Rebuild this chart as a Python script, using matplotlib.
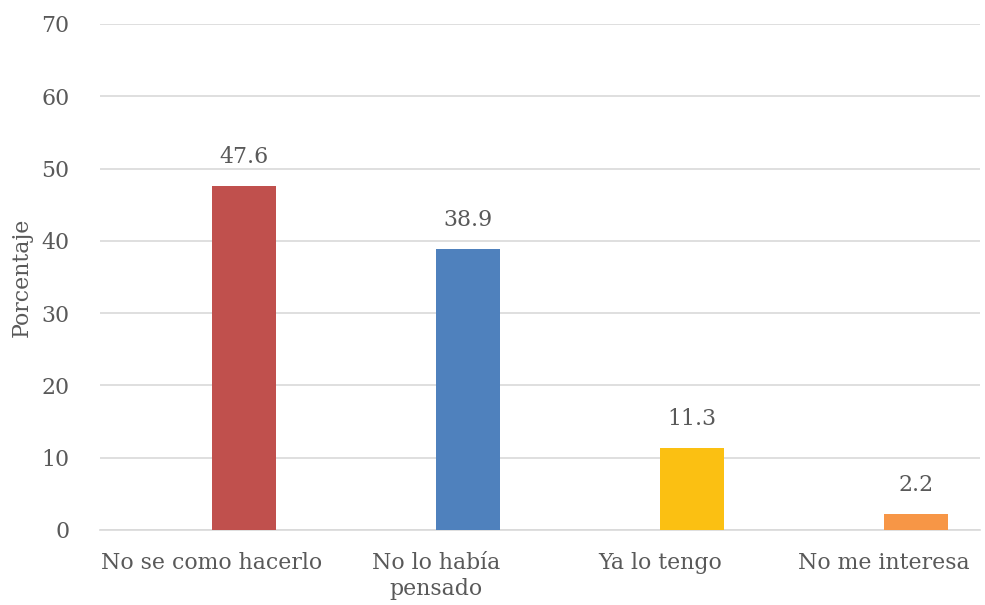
import matplotlib
matplotlib.use("Agg")
import matplotlib.pyplot as plt
import numpy as np

categories = ["No se como hacerlo", "No lo había\npensado", "Ya lo tengo", "No me interesa"]
values = [47.6, 38.9, 11.3, 2.2]
colors = ["#C0504D", "#4F81BD", "#FBC012", "#F79646"]
yticks = [0, 10, 20, 30, 40, 50, 60, 70]

text_color = "#595959"
grid_color = "#D9D9D9"
plt.rcParams["font.family"] = ["DejaVu Serif"]
fs = 15.8

fig = plt.figure(figsize=(9.85, 6.05), dpi=100)
ax = fig.add_axes([100 / 985, 75 / 605, 880 / 985, 506 / 605])

x = np.arange(len(categories))
bar_w = 64 / 224
offset = bar_w / 2
bars = ax.bar(x + offset, values, width=bar_w, color=colors, zorder=3)

for b, v in zip(bars, values):
    ax.text(b.get_x() + b.get_width() / 2, v + 2.5, f"{v:.1f}",
            ha="center", va="bottom", fontsize=fs, color=text_color)

ax.set_xlim(-0.5, -0.5 + 880 / 224)
ax.set_ylim(0, 70)
ax.set_yticks(yticks)
ax.set_yticklabels([str(t) for t in yticks], fontsize=fs, color=text_color)
ax.set_xticks(x)
ax.set_xticklabels(categories, fontsize=fs, color=text_color, linespacing=1.2)

ax.yaxis.grid(True, color=grid_color, linewidth=1.2, zorder=0)
ax.tick_params(axis="both", length=0)
ax.tick_params(axis="y", pad=22)
ax.tick_params(axis="x", pad=16)
for s in ["top", "right", "left"]:
    ax.spines[s].set_visible(False)
ax.spines["bottom"].set_color(grid_color)
ax.spines["bottom"].set_linewidth(1.2)

ax.set_ylabel("Porcentaje", fontsize=fs, color=text_color, labelpad=6)

fig.savefig("out.png", dpi=100, facecolor="white")
